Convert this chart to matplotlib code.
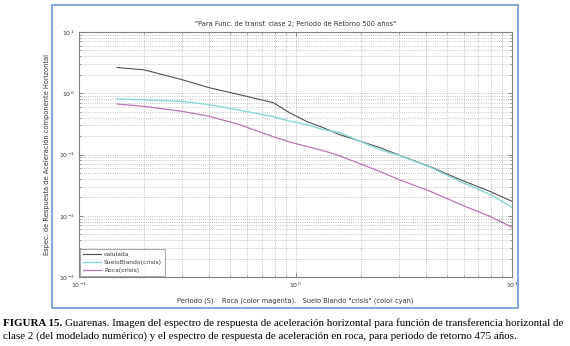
import matplotlib
matplotlib.use('Agg')
import matplotlib.pyplot as plt
from matplotlib.patches import Rectangle

# periodo (s)
periodo = [0.15, 0.2, 0.3, 0.4, 0.55, 0.79, 0.94, 1.13, 1.34, 1.6, 2.45, 3.0, 4.2, 5.75, 7.9, 10.0]
calulada = [2.63, 2.41, 1.66, 1.23, 0.95, 0.70, 0.48, 0.344, 0.275, 0.211, 0.130, 0.098, 0.063, 0.039, 0.025, 0.0172]
suelo_blando = [0.805, 0.78, 0.735, 0.65, 0.53, 0.415, 0.35, 0.308, 0.255, 0.228, 0.12, 0.097, 0.062, 0.0364, 0.0224, 0.0137]
roca = [0.667, 0.61, 0.506, 0.42, 0.308, 0.195, 0.16, 0.135, 0.116, 0.095, 0.053, 0.039, 0.025, 0.0154, 0.0098, 0.0065]

titulo = '"Para Func. de transf. clase 2; Periodo de Retorno 500 años"'
xlab = 'Periodo (S).   Roca (color magenta).   Suelo Blando "crisis" (color cyan)'
ylab = 'Espec. de Respuesta de Aceleración componente Horizontal'
cap_bold = 'FIGURA 15.'
cap1 = ('Guarenas. Imagen del espectro de respuesta de aceleración horizontal '
        'para función de transferencia horizontal de')
cap2 = ('clase 2 (del modelado numérico) y el espectro de respuesta de '
        'aceleración en roca, para periodo de retorno 475 años.')

W, H = 570, 346
fig = plt.figure(figsize=(W / 100, H / 100), dpi=100)
fig.patch.set_facecolor('white')

# blue frame around the screenshot
fig.patches.append(Rectangle((52 / W, 1 - 308 / H), 466 / W, 303 / H,
                             transform=fig.transFigure, fill=False,
                             edgecolor='#6f98d2', lw=1.2))

ax = fig.add_axes([79 / W, 1 - 277 / H, 433 / W, 245 / H])
ax.plot(periodo, calulada, color='#505050', lw=0.8, label='calulada')
ax.plot(periodo, suelo_blando, color='#8ad6d4', lw=1.0, label='SueloBlando(crisis)')
ax.plot(periodo, roca, color='#b776b6', lw=0.9, label='Roca(crisis)')

ax.set_xscale('log')
ax.set_yscale('log')
ax.set_xlim(0.1, 10)
ax.set_ylim(1e-3, 1e1)
ax.grid(True, which='both', linestyle=':', color='#b0b0b0', lw=0.6)
ax.tick_params(which='both', direction='in', top=True, right=True,
               labelsize=4.5, colors='#606060', labelcolor='#333333', pad=3)
ax.tick_params(which='major', length=3, width=0.5)
ax.tick_params(which='minor', length=1.5, width=0.4)
for s in ax.spines.values():
    s.set_color('#808080')
    s.set_linewidth(0.8)

ax.set_title(titulo, fontsize=4.8, color='#333333', pad=4)
ax.set_xlabel(xlab, fontsize=4.8, color='#333333', labelpad=5)
ax.set_ylabel(ylab, fontsize=4.8, color='#333333', labelpad=6)

leg = ax.legend(loc='lower left', fontsize=4.3, frameon=True, fancybox=False,
                handlelength=3.0, handletextpad=0.5, borderaxespad=0.2,
                labelspacing=0.45, borderpad=0.5)
leg.get_frame().set_edgecolor('#808080')
leg.get_frame().set_linewidth(0.6)
for t in leg.get_texts():
    t.set_color('#333333')

# caption
serif = ['Liberation Serif', 'DejaVu Serif']
tb = fig.text(3 / W, 1 - 323 / H, cap_bold, fontsize=7.9, fontweight='bold',
              family=serif, va='center', ha='left')
fig.canvas.draw()
bb = tb.get_window_extent()
fig.text((bb.x1 + 3) / W, 1 - 323 / H, cap1, fontsize=7.9, family=serif,
         va='center', ha='left')
fig.text(3 / W, 1 - 336 / H, cap2, fontsize=7.9, family=serif,
         va='center', ha='left')

fig.savefig('out.png', dpi=100)
